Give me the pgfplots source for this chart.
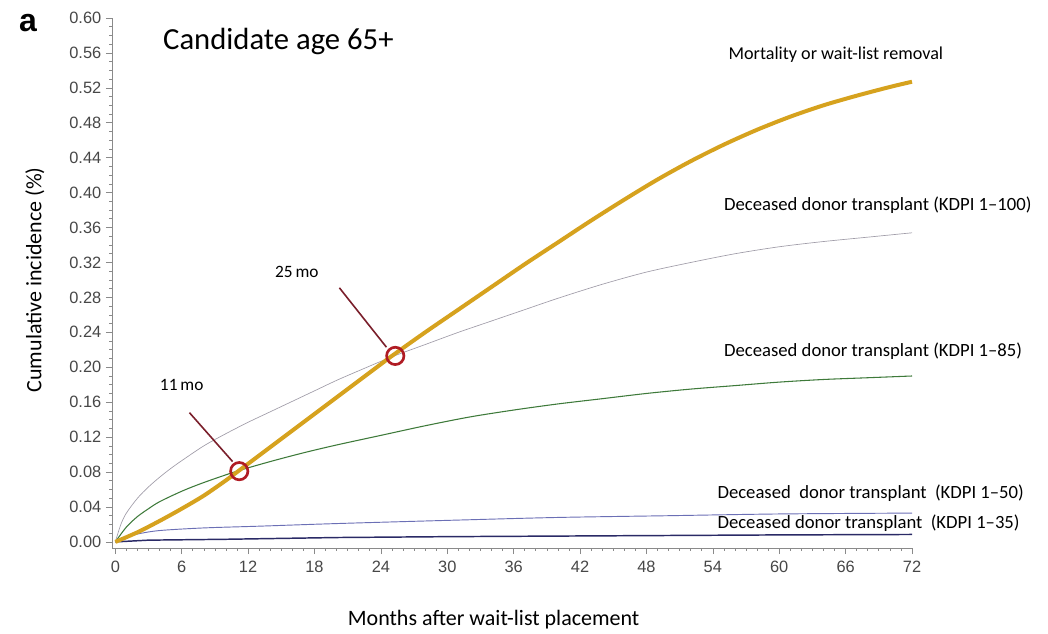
\documentclass[border=0pt]{standalone}
\usepackage{pgfplots}
\pgfplotsset{compat=1.18}
\usepackage{fontspec}
\setmainfont{Carlito}
\newfontfamily\arial{Liberation Sans}
\definecolor{goldc}{HTML}{D6A21E}
\definecolor{grayc}{HTML}{A09CA8}
\definecolor{greenc}{HTML}{3E7A3A}
\definecolor{bluec}{HTML}{6B6FB5}
\definecolor{navyc}{HTML}{2A2A66}
\definecolor{circc}{HTML}{B01C24}
\definecolor{arrc}{HTML}{7A1F2B}
\definecolor{axc}{HTML}{8A8A8A}
\begin{document}
\begin{tikzpicture}
\begin{axis}[
  scale only axis, width=600pt, height=397.5pt,
  xmin=-0.3, xmax=72, ymin=-0.007, ymax=0.60,
  axis lines=left, axis line style={-, axc, line width=0.6pt},
  clip=false,
  xtick={0,6,...,72}, minor x tick num=5,
  ytick={0,0.04,0.08,0.12,0.16,0.20,0.24,0.28,0.32,0.36,0.40,0.44,0.48,0.52,0.56,0.60},
  minor y tick num=3,
  tick align=outside, tick style={axc, line width=0.5pt},
  major tick length=4.5pt, minor tick length=2.2pt,
  /pgf/number format/assume math mode=true,
  tick label style={font=\arial\fontsize{12.3}{14}\selectfont, text=black!72},
  yticklabel style={/pgf/number format/.cd, fixed, fixed zerofill, precision=2},
  xticklabel style={yshift=-2pt},
  xlabel={Months after wait-list placement},
  xlabel style={at={(axis description cs:0.477,-0.136)}, anchor=center, font=\fontsize{16.5}{19}\selectfont},
  ylabel={Cumulative incidence (\%)},
  ylabel style={at={(axis description cs:-0.0963,0.506)}, anchor=center, font=\fontsize{16.5}{19}\selectfont},
]
\coordinate (SW) at (rel axis cs:0,0);
% KDPI 1-35
\addplot[navyc, line width=1.1pt] coordinates {(0,0) (3,0.002) (10,0.003) (20,0.005) (30,0.006) (45,0.007) (60,0.008) (72,0.0085)};
% KDPI 1-50
\addplot[bluec, line width=0.7pt, smooth] coordinates {(0,0) (1,0.005) (2,0.009) (4,0.013) (8,0.016) (13,0.018) (20,0.021) (31,0.025) (40,0.028) (50,0.030) (60,0.032) (72,0.033)};
% KDPI 1-85
\addplot[greenc, line width=0.8pt, smooth] coordinates {(0,0) (1,0.017) (2,0.029) (3,0.038) (4,0.046) (6,0.058) (8,0.068) (11,0.081) (14,0.092) (17,0.102) (20,0.111) (24,0.122) (28,0.133) (32,0.143) (36,0.151) (40,0.158) (44,0.164) (48,0.170) (52,0.175) (56,0.179) (60,0.183) (64,0.186) (68,0.188) (72,0.190)};
% KDPI 1-100
\addplot[grayc, line width=0.5pt, smooth] coordinates {(0,0) (0.5,0.02) (1,0.033) (2,0.05) (3,0.063) (4,0.074) (5,0.084) (6,0.093) (8,0.110) (10,0.124) (12,0.137) (14,0.149) (16,0.161) (18,0.173) (20,0.185) (22,0.196) (25,0.212) (28,0.226) (31,0.240) (34,0.253) (37,0.266) (40,0.279) (44,0.295) (48,0.309) (52,0.320) (56,0.330) (60,0.338) (64,0.344) (68,0.349) (72,0.354)};
% Mortality
\addplot[goldc, line width=3pt, smooth] coordinates {(0,0) (2,0.011) (4,0.024) (6,0.038) (8,0.053) (10,0.0705) (11,0.080) (12,0.0895) (14,0.1085) (16,0.1275) (18,0.1465) (20,0.1655) (22,0.1845) (24,0.2035) (25,0.213) (28,0.240) (31,0.266) (34,0.292) (37,0.318) (40,0.343) (43,0.368) (46,0.392) (49,0.415) (52,0.436) (55,0.455) (58,0.472) (61,0.487) (64,0.500) (67,0.511) (70,0.521) (72,0.527)};
% arrows
\addplot[arrc, line width=1.2pt] coordinates {(6.7,0.148) (10.6,0.092)};
\addplot[arrc, line width=1.2pt] coordinates {(20.25,0.291) (24.5,0.223)};
% circles
\addplot[only marks, mark=o, mark size=6.5pt, mark options={circc, line width=2pt}] coordinates {(11.2,0.081) (25.3,0.213)};
% labels
\node[anchor=center, font=\fontsize{13}{15}\selectfont] at (axis cs:6.0,0.180) {11\,mo};
\node[anchor=center, font=\fontsize{13}{15}\selectfont] at (axis cs:16.4,0.309) {25\,mo};
\node[anchor=west, font=\fontsize{23}{26}\selectfont] at (axis cs:3.9,0.573) {Candidate age 65+};
\node[anchor=center, font=\arial\bfseries\fontsize{24}{26}\selectfont] at (axis description cs:-0.105,0.990) {a};
\node[anchor=west, font=\fontsize{13.6}{16}\selectfont] at (axis cs:55.0,0.558) {Mortality or wait-list removal};
\node[anchor=west, font=\fontsize{14}{16}\selectfont] at (axis cs:54.6,0.386) {Deceased donor transplant (KDPI 1–100)};
\node[anchor=west, font=\fontsize{14}{16}\selectfont] at (axis cs:54.6,0.218) {Deceased donor transplant (KDPI 1–85)};
\node[anchor=west, font=\fontsize{14}{16}\selectfont] at (axis cs:54.0,0.056) {Deceased \ donor transplant \ (KDPI 1–50)};
\node[anchor=west, font=\fontsize{14}{16}\selectfont] at (axis cs:54.0,0.021) {Deceased donor transplant \ (KDPI 1–35)};
\end{axis}
\pgfresetboundingbox
\path (SW) ++(-84pt,-63.75pt) rectangle ++(786pt,474.75pt);
\end{tikzpicture}
\end{document}
